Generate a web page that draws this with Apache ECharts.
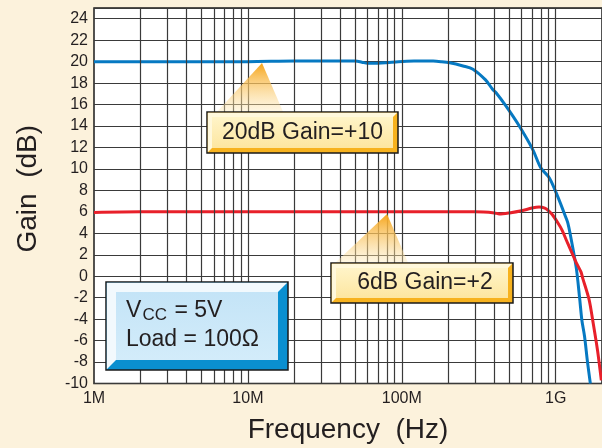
<!DOCTYPE html>
<html>
<head>
<meta charset="utf-8">
<title>Gain vs Frequency</title>
<script src="https://cdn.jsdelivr.net/npm/echarts@6/dist/echarts.min.js"></script>
<style>
    body { margin: 0; background: #fcf2dc; }
    #main { width: 602px; height: 448px; }
</style>
</head>
<body>
<div id="main"></div>
<script>
// 20dB (gain = +10) curve
var blueFreq = [1e6, 2e6, 5e6, 1e7, 2e7, 4e7, 5e7, 5.5e7, 6e7, 7e7, 8e7, 9.5e7, 1.2e8, 1.6e8, 1.8e8,
    2.05e8, 2.5e8, 2.9e8, 3.5e8, 3.9e8, 4.1e8, 4.76e8, 5.8e8, 7.1e8, 8.0e8, 9.1e8, 1.03e9,
    1.17e9, 1.2e9, 1.24e9, 1.36e9, 1.43e9, 1.48e9, 1.54e9, 1.61e9, 1.68e9];
var blueGain = [20.0, 20.0, 20.0, 20.0, 20.05, 20.05, 20.05, 19.95, 19.85, 19.85, 19.9, 20.0, 20.05, 20.05, 20.0,
    19.9, 19.6, 19.3, 18.3, 17.4, 17.1, 15.85, 14.0, 11.8, 10.1, 9.16, 7.44,
    5.4, 4.95, 4.0, 0.8, -2.0, -4.1, -5.6, -8.0, -10.0];

// 6dB (gain = +2) curve
var redFreq = [1e6, 2e6, 5e6, 1e7, 3e7, 1e8, 2e8, 3e8, 4e8, 4.3e8, 5e8, 6e8, 7e8, 7.8e8, 8.5e8,
    9.0e8, 9.5e8, 1.03e9, 1.1e9, 1.17e9, 1.35e9, 1.46e9, 1.5e9, 1.65e9, 1.74e9, 1.87e9, 1.98e9];
var redGain = [5.95, 6.0, 6.0, 6.0, 6.0, 6.0, 6.0, 6.0, 5.9, 5.8, 5.9, 6.1, 6.35, 6.45, 6.35,
    6.1, 5.75, 5.0, 4.3, 3.4, 1.37, 0.4, -0.2, -2.2, -4.1, -6.9, -9.7];

// vertical grid lines (1..9 of each decade)
var gridFreq = [2e6, 3e6, 4e6, 5e6, 6e6, 7e6, 8e6, 9e6, 1e7,
    2e7, 3e7, 4e7, 5e7, 6e7, 7e7, 8e7, 9e7, 1e8,
    2e8, 3e8, 4e8, 5e8, 6e8, 7e8, 8e8, 9e8, 1e9];

var FONT = 'Liberation Sans, Arial, sans-serif';

function pairs(xs, ys) {
    var out = [];
    for (var i = 0; i < xs.length; i++) {
        out.push([xs[i], ys[i]]);
    }
    return out;
}

function freqLabel(v) {
    var v2 = Math.round(v);
    if (v2 >= 1e9) return Math.round(v2 / 1e9) + 'G';
    return Math.round(v2 / 1e6) + 'M';
}

/**
 * beveled box: black outline, light top-left edge, dark bottom-right edge
 */
function bevelBox(x0, y0, x1, y1, b, light, dark, faceTop, faceBottom) {
    return [
        {
            type: 'rect', z: 100,
            shape: { x: x0, y: y0, width: x1 - x0, height: y1 - y0 },
            style: { fill: dark, stroke: '#1a1a1a', lineWidth: 1.5 }
        },
        {
            type: 'polygon', z: 101,
            shape: { points: [[x0 + 0.8, y0 + 0.8], [x1 - 0.8, y0 + 0.8], [x1 - b, y0 + b], [x0 + b, y1 - b], [x0 + 0.8, y1 - 0.8]] },
            style: { fill: light }
        },
        {
            type: 'rect', z: 102,
            shape: { x: x0 + b, y: y0 + b, width: x1 - x0 - 2 * b, height: y1 - y0 - 2 * b },
            style: {
                fill: new echarts.graphic.LinearGradient(0, 0, 0, 1, [
                    { offset: 0, color: faceTop },
                    { offset: 1, color: faceBottom }
                ])
            }
        }
    ];
}

function pointer(ax, ay, bx0, bx1, by) {
    return {
        type: 'polygon', z: 99,
        shape: { points: [[ax, ay], [bx1, by], [bx0, by]] },
        style: {
            fill: new echarts.graphic.LinearGradient(0, 0, 0, 1, [
                { offset: 0, color: '#f6a51a' },
                { offset: 1, color: 'rgba(253,236,190,0.35)' }
            ])
        }
    };
}

function RenderChart() {
    var dom = document.getElementById('main');
    var chart = echarts.init(dom);

    var graphics = [];
    // "20dB Gain=+10" callout
    graphics.push(pointer(262, 63, 215, 284, 114));
    graphics = graphics.concat(bevelBox(207, 112, 398, 153, 5, '#fff8dc', '#f7b21e', '#fff4c8', '#fde6a0'));
    graphics.push({
        type: 'text', z: 110,
        style: { text: '20dB Gain=+10', x: 302.5, y: 133, align: 'center', verticalAlign: 'middle', font: '23px ' + FONT, fill: '#231f20' }
    });
    // "6dB Gain=+2" callout
    graphics.push(pointer(387, 214, 333, 409, 265));
    graphics = graphics.concat(bevelBox(331, 263, 513, 303, 5, '#fff8dc', '#f7b21e', '#fff4c8', '#fde6a0'));
    graphics.push({
        type: 'text', z: 110,
        style: { text: '6dB Gain=+2', x: 425, y: 283, align: 'center', verticalAlign: 'middle', font: '23px ' + FONT, fill: '#231f20' }
    });
    // conditions box
    graphics = graphics.concat(bevelBox(106, 282, 288, 370, 10, '#f2f9fd', '#0a8fd0', '#c4e4f7', '#d3ecfa'));
    graphics.push({
        type: 'text', z: 110,
        style: { text: 'V', x: 126, y: 311, verticalAlign: 'middle', font: '23px ' + FONT, fill: '#231f20' }
    });
    graphics.push({
        type: 'text', z: 110,
        style: { text: 'CC', x: 142.5, y: 315, verticalAlign: 'middle', font: '17px ' + FONT, fill: '#231f20' }
    });
    graphics.push({
        type: 'text', z: 110,
        style: { text: ' = 5V', x: 168, y: 311, verticalAlign: 'middle', font: '23px ' + FONT, fill: '#231f20' }
    });
    graphics.push({
        type: 'text', z: 110,
        style: { text: 'Load = 100\u03a9', x: 126, y: 340, verticalAlign: 'middle', font: '23px ' + FONT, fill: '#231f20' }
    });

    var option = {
        backgroundColor: '#fcf2dc',
        animation: false,
        grid: {
            left: 94, top: 8, right: 0, bottom: 64.5,
            outerBoundsMode: 'none',
            show: true,
            backgroundColor: '#ffffff',
            borderColor: '#1a1a1a',
            borderWidth: 1.5
        },
        xAxis: {
            type: 'log',
            logBase: 10,
            min: 1e6,
            max: 2e9,
            name: 'Frequency  (Hz)',
            nameLocation: 'middle',
            nameGap: 33,
            nameTextStyle: { fontFamily: FONT, fontSize: 28, color: '#231f20' },
            axisLine: { show: false },
            axisTick: { show: false },
            splitLine: { show: false },
            axisLabel: {
                fontFamily: FONT, fontSize: 16, color: '#231f20', margin: 7,
                showMaxLabel: false,
                formatter: freqLabel
            }
        },
        yAxis: {
            type: 'value',
            min: -10,
            max: 25,
            interval: 2,
            name: 'Gain  (dB)',
            nameLocation: 'middle',
            nameGap: 52,
            nameTextStyle: { fontFamily: FONT, fontSize: 28, color: '#231f20', padding: [0, 0, 0, 14] },
            axisLine: { show: false },
            axisTick: { show: false },
            splitLine: { show: true, lineStyle: { color: '#3a3a3a', width: 1.2 } },
            axisLabel: {
                fontFamily: FONT, fontSize: 16, color: '#231f20', margin: 6,
                showMaxLabel: false
            }
        },
        series: [
            {
                // holds the vertical grid lines only
                type: 'line',
                z: 1,
                data: [],
                silent: true,
                markLine: {
                    silent: true,
                    symbol: ['none', 'none'],
                    label: { show: false },
                    lineStyle: { color: '#3a3a3a', width: 1.2, type: 'solid' },
                    data: gridFreq.map(function (f) { return { xAxis: f }; })
                }
            },
            {
                name: '20dB',
                type: 'line',
                z: 3,
                showSymbol: false,
                smooth: 0.3,
                data: pairs(blueFreq, blueGain),
                lineStyle: { color: '#0679c2', width: 3 }
            },
            {
                name: '6dB',
                type: 'line',
                z: 4,
                showSymbol: false,
                smooth: 0.3,
                data: pairs(redFreq, redGain),
                lineStyle: { color: '#e8202a', width: 3 }
            }
        ],
        graphic: graphics
    };

    chart.setOption(option);

    window.addEventListener('resize', function () {
        chart.resize();
    });
}

RenderChart();
</script>
</body>
</html>
